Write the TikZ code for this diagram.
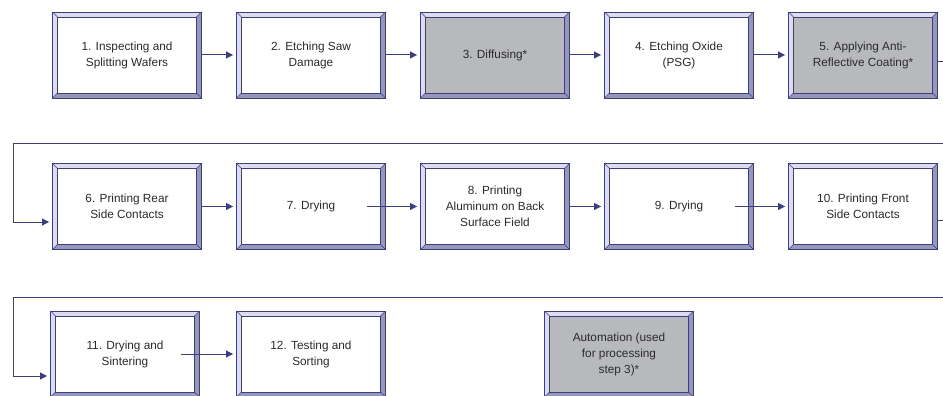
\documentclass[tikz,border=0pt]{standalone}
\usepackage{fontspec}
\setmainfont{Liberation Sans}
\usetikzlibrary{arrows.meta}
\definecolor{navy}{HTML}{3C3F7C}
\definecolor{bevlight}{HTML}{DCDCEE}
\definecolor{bevdark}{HTML}{9597BD}
\definecolor{procgray}{HTML}{B8B9BD}
\definecolor{txt}{HTML}{2B2B2B}
\newcommand\bev{5}
\tikzset{
  procbox/.style={draw=navy, line width=0.9pt, fill=bevlight, minimum width=149pt, minimum height=86pt,
    inner sep=0pt, align=center, text=txt, font=\fontsize{11.8}{16}\selectfont,
    path picture={
      \path (path picture bounding box.north west) coordinate (pnw)
            (path picture bounding box.north east) coordinate (pne)
            (path picture bounding box.south west) coordinate (psw)
            (path picture bounding box.south east) coordinate (pse);
      \fill[bevdark] (pne) -- (pse) -- (psw) -- ([shift={(\bev,\bev)}]psw) -- ([shift={(-\bev,\bev)}]pse) -- ([shift={(-\bev,-\bev)}]pne) -- cycle;
      \draw[navy, line width=0.6pt, fill=#1] ([shift={(\bev,-\bev)}]pnw) rectangle ([shift={(-\bev,\bev)}]pse);
      \draw[navy, line width=0.4pt] (pnw) -- ++(\bev,-\bev) (pne) -- ++(-\bev,-\bev) (psw) -- ++(\bev,\bev) (pse) -- ++(-\bev,\bev);
    }},
  procbox/.default=white,
  flow/.style={draw=navy, line width=1pt, -{Triangle[length=7pt,width=7pt]}, shorten >=3pt}
}
\begin{document}
\begin{tikzpicture}[x=1pt,y=1pt]
\useasboundingbox (0,0) rectangle (943,-396);
\pgfmathsetmacro\colstep{184}
\node[procbox] (b1) at (127,-55) {1. Inspecting and\\Splitting Wafers};
\node[procbox] (b2) at (127+\colstep,-55) {2. Etching Saw\\Damage};
\node[procbox=procgray] (b3) at (127+2*\colstep,-55) {3. Diffusing*};
\node[procbox] (b4) at (127+3*\colstep,-55) {4. Etching Oxide\\(PSG)};
\node[procbox=procgray] (b5) at (127+4*\colstep,-55) {5. Applying Anti-\\Reflective Coating*};
\node[procbox] (b6) at (127,-206.5) {6. Printing Rear\\Side Contacts};
\node[procbox] (b7) at (127+\colstep,-206.5) {7. Drying};
\node[procbox] (b8) at (127+2*\colstep,-206.5) {8. Printing\\Aluminum on Back\\Surface Field};
\node[procbox] (b9) at (127+3*\colstep,-206.5) {9. Drying};
\node[procbox] (b10) at (127+4*\colstep,-206.5) {10. Printing Front\\Side Contacts};
\node[procbox] (b11) at (125,-354) {11. Drying and\\Sintering};
\node[procbox] (b12) at (127+\colstep,-354) {12. Testing and\\Sorting};
\node[procbox=procgray] (auto) at (619,-354) {Automation (used\\for processing\\step 3)*};
\coordinate (wrapA) at (943,-143);
\coordinate (wrapB) at (13,-143);
\coordinate (wrapC) at (943,-297);
\coordinate (wrapD) at (13,-297);
\foreach \a/\b in {b1/b2,b2/b3,b3/b4,b4/b5,b6/b7,b8/b9}
  \draw[flow] (\a) -- (\b);
\foreach \a/\b in {b7/b8,b9/b10,b11/b12}
  \draw[flow] ([xshift=-19pt]\a.east) -- (\b);
\draw[flow] ([yshift=-7pt]b5.east) -| (wrapA) -- (wrapB) |- ([yshift=-15.5pt]b6.west);
\draw[flow] ([yshift=-13.5pt]b10.east) -| (wrapC) -- (wrapD) |- ([yshift=-22pt]b11.west);
\end{tikzpicture}
\end{document}
